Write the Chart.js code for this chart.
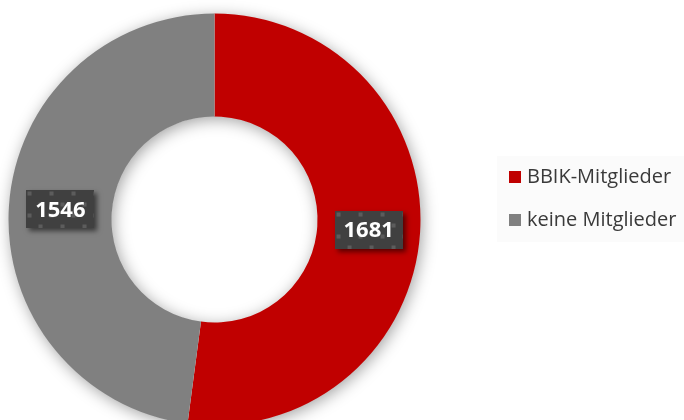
<!DOCTYPE html>
<html>
<head>
<meta charset="utf-8">
<script src="https://cdn.jsdelivr.net/npm/chart.js@4/dist/chart.umd.min.js"></script>
<style>
  html, body { margin: 0; padding: 0; background: #ffffff; overflow: hidden; }
  #wrap { width: 684px; height: 420px; overflow: hidden; }
  canvas { display: block; }
</style>
</head>
<body>
<div id="wrap"><canvas id="c" width="684" height="439"></canvas></div>
<script>
// Membership split
const categories = ['BBIK-Mitglieder', 'keine Mitglieder'];
const memberCounts = [1681, 1546];

const RED = '#c00000';
const GREY = '#808080';

// Dark label tile with a faint checker of lighter squares
function makeLabelPattern(ctx) {
  const tile = document.createElement('canvas');
  tile.width = 22; tile.height = 22;
  const t = tile.getContext('2d');
  t.fillStyle = '#404040';
  t.fillRect(0, 0, 22, 22);
  t.fillStyle = '#5c5c5c';
  t.fillRect(0, 0, 4, 4);
  t.fillRect(11, 11, 4, 4);
  return ctx.createPattern(tile, 'repeat');
}

// Soft drop shadow under the whole ring
const ringShadow = {
  id: 'ringShadow',
  beforeDatasetsDraw(chart) {
    const arc = chart.getDatasetMeta(0).data[0];
    if (!arc) return;
    const { x, y, outerRadius, innerRadius } = arc.getProps(['x', 'y', 'outerRadius', 'innerRadius'], true);
    const ctx = chart.ctx;
    ctx.save();
    ctx.shadowColor = 'rgba(0,0,0,0.38)';
    ctx.shadowBlur = 16;
    ctx.shadowOffsetX = 2;
    ctx.shadowOffsetY = 3;
    ctx.beginPath();
    ctx.arc(x, y, outerRadius - 0.5, 0, Math.PI * 2);
    ctx.arc(x, y, innerRadius + 0.5, 0, Math.PI * 2, true);
    ctx.fillStyle = '#ffffff';
    ctx.fill('evenodd');
    ctx.restore();
  }
};

// Value boxes placed at the centre of each arc
const valueBoxes = {
  id: 'valueBoxes',
  afterDatasetsDraw(chart) {
    const ctx = chart.ctx;
    const pattern = makeLabelPattern(ctx);
    const values = chart.data.datasets[0].data;
    chart.getDatasetMeta(0).data.forEach((arc, i) => {
      const p = arc.getCenterPoint();
      const w = 68, h = 38;
      const bx = Math.round(p.x - w / 2), by = Math.round(p.y - h / 2);
      ctx.save();
      ctx.shadowColor = 'rgba(0,0,0,0.55)';
      ctx.shadowBlur = 5;
      ctx.shadowOffsetX = 3;
      ctx.shadowOffsetY = 3;
      ctx.fillStyle = '#404040';
      ctx.fillRect(bx, by, w, h);
      ctx.restore();
      ctx.save();
      pattern.setTransform(new DOMMatrix().translate(bx + 1.5, by + 1.5));
      ctx.fillStyle = pattern;
      ctx.fillRect(bx, by, w, h);
      ctx.fillStyle = '#ffffff';
      ctx.font = 'bold 22px "Open Sans", sans-serif';
      ctx.textAlign = 'center';
      ctx.textBaseline = 'middle';
      ctx.fillText(String(values[i]), p.x, p.y + 1.5);
      ctx.restore();
    });
  }
};

// Legend panel on the right
const sideLegend = {
  id: 'sideLegend',
  afterDraw(chart) {
    const ctx = chart.ctx;
    const ds = chart.data.datasets[0];
    ctx.save();
    ctx.fillStyle = '#fbfbfb';
    ctx.fillRect(497, 156, 187, 86);
    ctx.font = '20px "Open Sans", sans-serif';
    ctx.textBaseline = 'middle';
    ctx.textAlign = 'left';
    chart.data.labels.forEach((label, i) => {
      const cy = 177 + i * 43;
      ctx.fillStyle = ds.backgroundColor[i];
      ctx.fillRect(509, cy - 6, 12, 12);
      ctx.fillStyle = '#3a3a3a';
      ctx.fillText(label, 527, cy + 0.5);
    });
    ctx.restore();
  }
};

new Chart(document.getElementById('c'), {
  type: 'doughnut',
  data: {
    labels: categories,
    datasets: [{
      data: memberCounts,
      backgroundColor: [RED, GREY],
      borderWidth: 0,
      hoverOffset: 0
    }]
  },
  options: {
    responsive: false,
    animation: false,
    devicePixelRatio: 1,
    radius: 206,
    cutout: '50%',
    layout: { padding: { left: 0, top: 0, bottom: 0, right: 255 } },
    plugins: {
      legend: { display: false },
      tooltip: { enabled: false }
    },
    events: []
  },
  plugins: [ringShadow, valueBoxes, sideLegend]
});
</script>
</body>
</html>
